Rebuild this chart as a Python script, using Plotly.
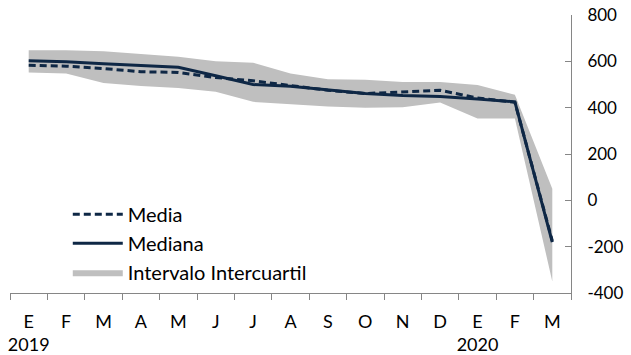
import plotly.graph_objects as go

months = ["E", "F", "M", "A", "M", "J", "J", "A", "S", "O", "N", "D", "E", "F", "M"]
years = {0: "2019", 12: "2020"}
mediana = [602, 598, 590, 583, 574, 538, 500, 492, 478, 461, 452, 448, 437, 425, -180]
media = [583, 579, 569, 555, 552, 530, 516, 495, 475, 461, 468, 475, 442, 423, -175]
q3 = [648, 648, 643, 633, 620, 600, 594, 547, 523, 521, 511, 511, 498, 456, 50]
q1 = [552, 548, 507, 494, 485, 469, 425, 415, 405, 400, 402, 422, 353, 353, -350]
y_ticks = [-400, -200, 0, 200, 400, 600, 800]

x = list(range(len(months)))
ticktext = [m + ("<br>" + years[i] if i in years else "") for i, m in enumerate(months)]

navy = "#0E2745"
band = "#BFBFBF"
axis_col = "#868686"
font = "Lato"

fig = go.Figure()
fig.add_trace(go.Scatter(x=x, y=q1, mode="lines", line=dict(width=0, color=band),
                         showlegend=False, hoverinfo="skip"))
fig.add_trace(go.Scatter(x=x, y=q3, mode="lines", line=dict(width=0, color=band),
                         fill="tonexty", fillcolor=band, name="Intervalo Intercuartil",
                         legendrank=3))
fig.add_trace(go.Scatter(x=x, y=media, mode="lines", name="Media",
                         line=dict(color=navy, width=3, dash="7px,4px"), legendrank=1))
fig.add_trace(go.Scatter(x=x, y=mediana, mode="lines", name="Mediana",
                         line=dict(color=navy, width=3), legendrank=2))

fig.update_layout(
    width=631, height=355,
    margin=dict(l=10, r=60, t=15, b=62, autoexpand=False),
    paper_bgcolor="white", plot_bgcolor="white",
    font=dict(family=font, size=18, color="#000000"),
    showlegend=True,
    legend=dict(x=0.103, y=0.353, xanchor="left", yanchor="top",
                traceorder="normal", itemwidth=50,
                bgcolor="rgba(0,0,0,0)", font=dict(size=20, family=font),
                tracegroupgap=0),
)
fig.update_xaxes(
    range=[-0.5, len(months) - 0.5], automargin=False,
    tickmode="array", tickvals=x, ticktext=ticktext,
    ticks="", showgrid=False, zeroline=False,
    showline=True, linecolor=axis_col, linewidth=1,
    minor=dict(tickmode="array", tickvals=[i - 0.5 for i in range(len(months) + 1)],
               ticks="outside", ticklen=6, tickcolor=axis_col, showgrid=False),
    ticklabelstandoff=12,
    tickfont=dict(size=18, family=font),
)
fig.update_yaxes(
    side="right", range=[-400, 800], automargin=False,
    tickmode="array", tickvals=y_ticks, ticktext=[str(v) for v in y_ticks],
    ticks="inside", ticklen=6, tickcolor=axis_col,
    showgrid=False, zeroline=False,
    showline=True, linecolor=axis_col, linewidth=1,
    ticklabelstandoff=12,
    tickfont=dict(size=17, family=font),
)

fig.write_html("out.html", config={"displayModeBar": False},
               post_script="document.body.style.margin='0';document.body.style.padding='0';")
